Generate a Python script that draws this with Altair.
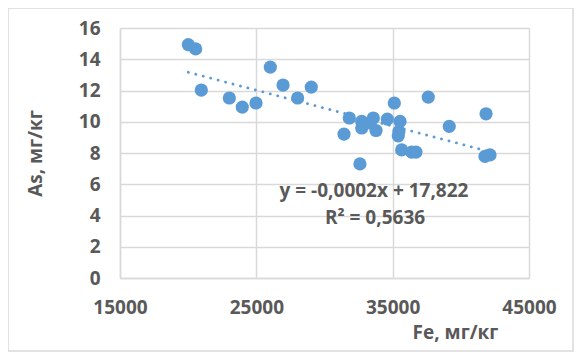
import altair as alt
import pandas as pd

fe = [20010, 20550, 20965, 23020, 23970, 24975, 26025, 26960, 28030, 29030,
      31820, 31430, 32730, 32730, 33340, 33580, 33780, 34610, 35120, 35540,
      35460, 35410, 35660, 36390, 36710, 32600, 37610, 39150, 41850, 41770, 42140]
as_ = [14.94, 14.66, 12.03, 11.52, 10.94, 11.2, 13.5, 12.35, 11.52, 12.22,
       10.24, 9.21, 10.02, 9.6, 9.92, 10.24, 9.44, 10.17, 11.2, 10.02,
       9.38, 9.1, 8.2, 8.06, 8.06, 7.3, 11.58, 9.7, 10.51, 7.78, 7.88]
x_ticks = [15000, 25000, 35000, 45000]
y_ticks = [0, 2, 4, 6, 8, 10, 12, 14, 16]
eq_lines = ["y = -0,0002x + 17,822", "R² = 0,5636"]

df = pd.DataFrame({"Fe": fe, "As": as_})

FONT = "Open Sans"
W = "bold"
FS = 19
TXT = "#595959"
GRID = "#d9d9d9"
BLUE = "#5b9bd5"

xs = alt.Scale(domain=[15000, 45000], nice=False, zero=False)
ys = alt.Scale(domain=[0, 16], nice=False)

x_axis = alt.Axis(values=x_ticks, format="d", grid=True, gridColor=GRID, gridWidth=1.5,
                  domainColor=GRID, domainWidth=1.5, ticks=False, labelOverlap=False,
                  labelFont=FONT, labelFontSize=FS, labelFontWeight=W, labelColor=TXT,
                  labelPadding=20, labelFlush=False,
                  title="Fe, мг/кг", titleFont=FONT, titleFontSize=FS, titleFontWeight=W,
                  titleColor=TXT, titleX=335, titleY=54, titleAlign="center",
                  titleBaseline="middle", titleAnchor="start")
y_axis = alt.Axis(values=y_ticks, tickCount=9, grid=True, gridColor=GRID, gridWidth=1.5,
                  domainColor=GRID, domainWidth=1.5, ticks=False, labelOverlap=False,
                  labelFont=FONT, labelFontSize=FS, labelFontWeight=W, labelColor=TXT,
                  labelPadding=20, labelFlush=False,
                  title="As, мг/кг", titleFont=FONT, titleFontSize=FS, titleFontWeight=W,
                  titleColor=TXT, titleX=-85, titleY=125, titleAlign="center",
                  titleBaseline="middle", titleAngle=270, titleAnchor="start")

base = alt.Chart(df)

points = base.mark_circle(size=175, color=BLUE, opacity=1).encode(
    x=alt.X("Fe:Q", scale=xs, axis=x_axis),
    y=alt.Y("As:Q", scale=ys, axis=y_axis),
)

trend = base.transform_regression("Fe", "As", method="linear").mark_line(
    color=BLUE, strokeWidth=2.8, strokeDash=[0.1, 7.6], strokeCap="round"
).encode(x=alt.X("Fe:Q", scale=xs, axis=x_axis), y=alt.Y("As:Q", scale=ys, axis=y_axis))

eq1 = alt.Chart(pd.DataFrame({"t": [eq_lines[0]]})).mark_text(
    font=FONT, fontSize=FS, fontWeight=W, color=TXT, align="center", baseline="middle"
).encode(text="t:N", x=alt.value(254), y=alt.value(163))
eq2 = alt.Chart(pd.DataFrame({"t": [eq_lines[1]]})).mark_text(
    font=FONT, fontSize=FS, fontWeight=W, color=TXT, align="center", baseline="middle"
).encode(text="t:N", x=alt.value(255), y=alt.value(190))

frame = alt.Chart(pd.DataFrame({"a": [0]})).mark_rect(
    fill=None, stroke=GRID, strokeWidth=1.5, fillOpacity=0
).encode(x=alt.value(-112), x2=alt.value(453), y=alt.value(-20), y2=alt.value(323))

chart = alt.layer(trend, points, frame, eq1, eq2).properties(
    width=409, height=250,
    autosize=alt.AutoSizeParams(type="none"),
    padding={"left": 112, "top": 20, "right": 46, "bottom": 75},
).configure_view(stroke=None)

chart.save("out.html", embed_options={"renderer": "svg", "actions": False})
